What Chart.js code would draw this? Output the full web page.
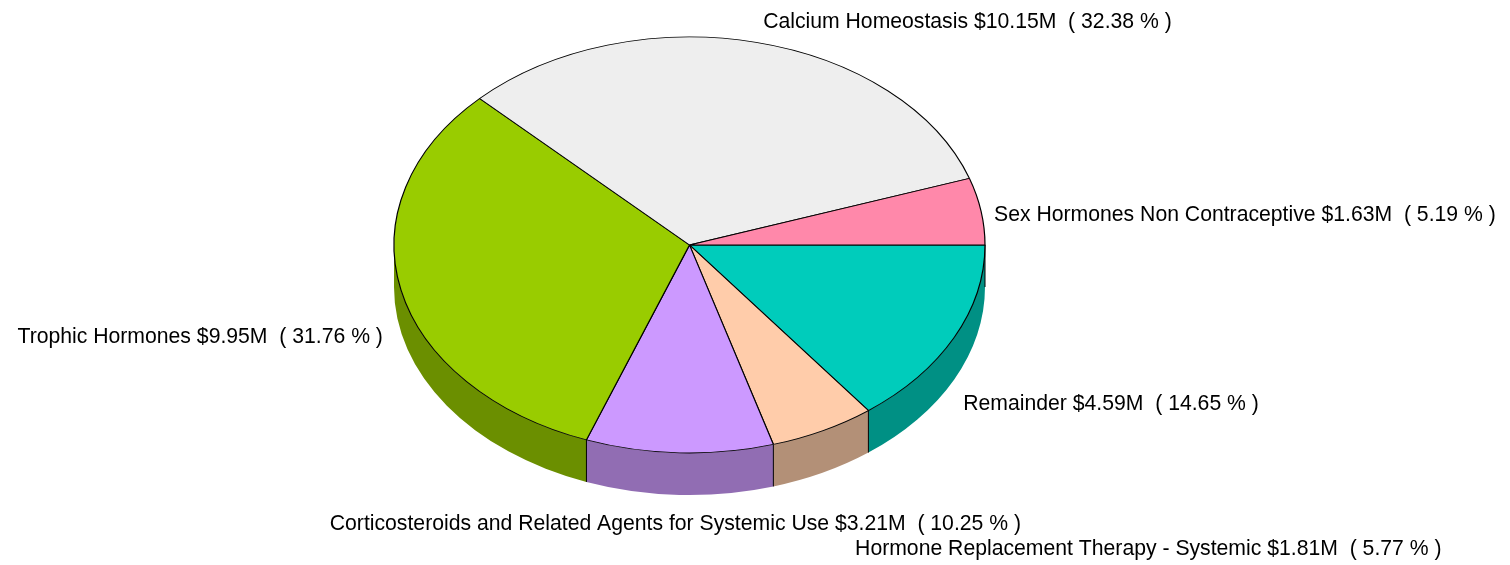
<!DOCTYPE html>
<html><head><meta charset="utf-8">
<script src="https://cdn.jsdelivr.net/npm/chart.js@4.4.1/dist/chart.umd.min.js"></script>
<style>html,body{margin:0;padding:0;background:#fff;overflow:hidden}#wrap{width:1510px;height:565px;position:relative}canvas{display:block}</style>
</head><body><div id="wrap"><canvas id="c" width="1510" height="565"></canvas></div>
<script>
// ---- data ----
const categories = ['Remainder','Hormone Replacement Therapy - Systemic','Corticosteroids and Related Agents for Systemic Use','Trophic Hormones','Calcium Homeostasis','Sex Hormones Non Contraceptive'];
const amountsM = [4.59, 1.81, 3.21, 9.95, 10.15, 1.63];
const percents = [14.65, 5.77, 10.25, 31.76, 32.38, 5.19];

// ---- styles / layout ----
const topColors  = ['#00CCBB','#FFCCAA','#CC99FF','#99CC00','#EEEEEE','#FF88AA'];
const sideColors = ['#009084','#B39077','#916DB3','#6B8F00','#A7A7A7','#B35F77'];
const labelOffsets = [[9,67],[32,119],[-4,71],[-18,47],[7,-20],[13,4]];
const RX = 295.5, RY = 208, DEPTH = 42;
const LABEL_FONT = "21.2px 'Liberation Sans', Arial, sans-serif";

const pie3d = {
  id: 'pie3d',
  beforeDatasetsDraw(chart) {
    const ctx = chart.ctx;
    const arcs = chart.getDatasetMeta(0).data;
    const cx = arcs[0].x, cy = arcs[0].y, R = arcs[0].outerRadius;
    // side walls (front half only)
    arcs.forEach((a, i) => {
      const s = Math.max(a.startAngle, 0), e = Math.min(a.endAngle, Math.PI);
      if (e <= s) return;
      ctx.beginPath();
      ctx.ellipse(cx, cy, RX, RY, 0, s, e, false);
      ctx.ellipse(cx, cy + DEPTH, RX, RY, 0, e, s, true);
      ctx.closePath();
      ctx.fillStyle = sideColors[i];
      ctx.fill();
    });
    ctx.strokeStyle = '#000';
    ctx.lineWidth = 1;
    arcs.forEach(a => {
      const t = a.startAngle;
      if (t >= 0 && t <= Math.PI) {
        const px = cx + RX * Math.cos(t), py = cy + RY * Math.sin(t);
        ctx.beginPath();
        ctx.moveTo(px, py);
        ctx.lineTo(px, py + DEPTH);
        ctx.stroke();
      }
    });
    // squash the library's circle into the tilted top face
    ctx.save();
    ctx.translate(cx, cy);
    ctx.scale(RX / R, RY / R);
    ctx.translate(-cx, -cy);
  },
  afterDatasetsDraw(chart) {
    const ctx = chart.ctx;
    ctx.restore();
    const arcs = chart.getDatasetMeta(0).data;
    const cx = arcs[0].x, cy = arcs[0].y;
    ctx.save();
    ctx.font = LABEL_FONT;
    ctx.fillStyle = '#000';
    ctx.textBaseline = 'middle';
    arcs.forEach((a, i) => {
      const m = (a.startAngle + a.endAngle) / 2;
      const c = Math.cos(m), s = Math.sin(m);
      const ax = cx + RX * c, ay = cy + RY * s;
      ctx.textAlign = c > 0.2 ? 'left' : (c < -0.2 ? 'right' : 'center');
      const txt = categories[i] + ' $' + amountsM[i].toFixed(2) + 'M  ( ' + percents[i].toFixed(2) + ' % )';
      ctx.fillText(txt, ax + labelOffsets[i][0], ay + labelOffsets[i][1]);
    });
    ctx.restore();
  }
};

new Chart(document.getElementById('c'), {
  type: 'pie',
  data: {
    labels: categories,
    datasets: [{
      data: percents,
      backgroundColor: topColors,
      borderColor: '#000',
      borderWidth: 1,
      hoverOffset: 0,
      clip: false
    }]
  },
  options: {
    responsive: false,
    animation: false,
    events: [],
    rotation: 90,
    layout: { padding: { left: 444.5, right: 575.5, top: 0, bottom: 75 } },
    plugins: { legend: { display: false }, tooltip: { enabled: false } }
  },
  plugins: [pie3d]
});
</script>
</body></html>
